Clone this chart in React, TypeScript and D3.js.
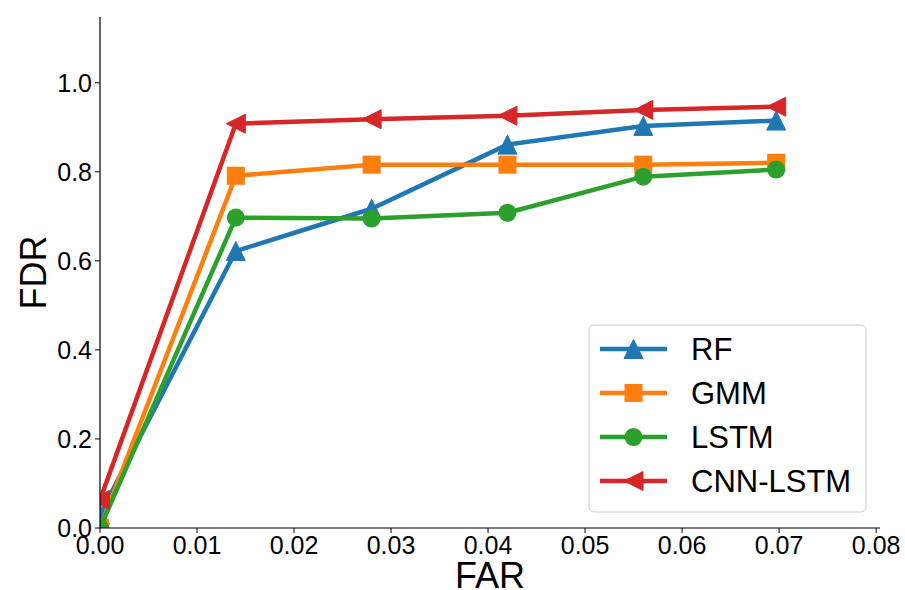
import * as d3 from 'd3'

const farValues = [0, 0.014, 0.028, 0.042, 0.056, 0.0697]
const rfValues = [0.03, 0.622, 0.717, 0.861, 0.903, 0.915]
const gmmValues = [0.0, 0.791, 0.816, 0.816, 0.816, 0.82]
const lstmValues = [0.0, 0.697, 0.695, 0.708, 0.789, 0.805]
const cnnLstmValues = [0.063, 0.908, 0.918, 0.926, 0.939, 0.946]
const seriesNames = ['RF', 'GMM', 'LSTM', 'CNN-LSTM']
const xTicks = [0, 0.01, 0.02, 0.03, 0.04, 0.05, 0.06, 0.07, 0.08]
const yTicks = [0, 0.2, 0.4, 0.6, 0.8, 1.0]

const colors = ['#1f77b4', '#ff7f0e', '#2ca02c', '#d62728']
const markers = ['up', 'square', 'circle', 'left']
const allValues = [rfValues, gmmValues, lstmValues, cnnLstmValues]

const W = 905
const H = 590
const left = 100
const right = 880
const top = 17
const bottom = 528
const font = 'Liberation Sans, Arial, sans-serif'

function Marker({ kind, x, y, color, s = 19 }: { kind: string; x: number; y: number; color: string; s?: number }) {
  const h = s / 2
  if (kind === 'circle') return <circle cx={x} cy={y} r={h * 0.95} fill={color} />
  if (kind === 'square') return <rect x={x - h * 0.95} y={y - h * 0.95} width={h * 1.9} height={h * 1.9} fill={color} />
  if (kind === 'up')
    return <path d={`M${x},${y - h}L${x - h},${y + h}L${x + h},${y + h}Z`} fill={color} stroke={color} strokeWidth={1} />
  return <path d={`M${x - h},${y}L${x + h},${y - h}L${x + h},${y + h}Z`} fill={color} stroke={color} strokeWidth={1} />
}

export default function App() {
  const x = d3.scaleLinear().domain([0, 0.0804]).range([left, right])
  const y = d3.scaleLinear().domain([0, 1.1476]).range([bottom, top])
  const line = d3.line<number>().x((_, i) => x(farValues[i])).y((d) => y(d))

  const legX = 589
  const legY = 325
  const legRow = 44

  return (
    <svg width={W} height={H} style={{ position: 'absolute', left: 0, top: 0, background: '#fff' }} fontFamily={font}>
      <defs>
        <clipPath id="plot">
          <rect x={left} y={top} width={right - left} height={bottom - top} />
        </clipPath>
      </defs>
      <g clipPath="url(#plot)">
        {allValues.map((vals, si) => (
          <g key={si}>
            <path d={line(vals) || ''} fill="none" stroke={colors[si]} strokeWidth={4.5} strokeLinejoin="round" />
            {vals.map((v, i) => (
              <Marker key={i} kind={markers[si]} x={x(farValues[i])} y={y(v)} color={colors[si]} />
            ))}
          </g>
        ))}
      </g>
      {/* axes */}
      <line x1={left} x2={left} y1={top} y2={bottom} stroke="#000" strokeWidth={1.2} />
      <line x1={left} x2={right} y1={bottom} y2={bottom} stroke="#000" strokeWidth={1.2} />
      {xTicks.map((t) => (
        <g key={t}>
          <line x1={x(t)} x2={x(t)} y1={bottom} y2={bottom + 5} stroke="#000" strokeWidth={1} />
          <text x={x(t)} y={bottom + 26} textAnchor="middle" fontSize={25}>
            {t.toFixed(2)}
          </text>
        </g>
      ))}
      {yTicks.map((t) => (
        <g key={t}>
          <line x1={left - 5} x2={left} y1={y(t)} y2={y(t)} stroke="#000" strokeWidth={1} />
          <text x={left - 8} y={y(t)} dy="0.36em" textAnchor="end" fontSize={25}>
            {t.toFixed(1)}
          </text>
        </g>
      ))}
      <text x={(left + right) / 2} y={588} textAnchor="middle" fontSize={36}>
        FAR
      </text>
      <text transform={`translate(46,${(top + bottom) / 2}) rotate(-90)`} textAnchor="middle" fontSize={36}>
        FDR
      </text>
      {/* legend */}
      <rect x={legX} y={legY} width={277} height={187} rx={5} fill="#fff" fillOpacity={0.8} stroke="#ccc" strokeWidth={1} />
      {seriesNames.map((name, i) => {
        const cy = legY + 24 + i * legRow
        return (
          <g key={name}>
            <line x1={600} x2={667} y1={cy} y2={cy} stroke={colors[i]} strokeWidth={4.5} />
            <Marker kind={markers[i]} x={633.5} y={cy} color={colors[i]} />
            <text x={691} y={cy} dy="0.36em" fontSize={31}>
              {name}
            </text>
          </g>
        )
      })}
    </svg>
  )
}
